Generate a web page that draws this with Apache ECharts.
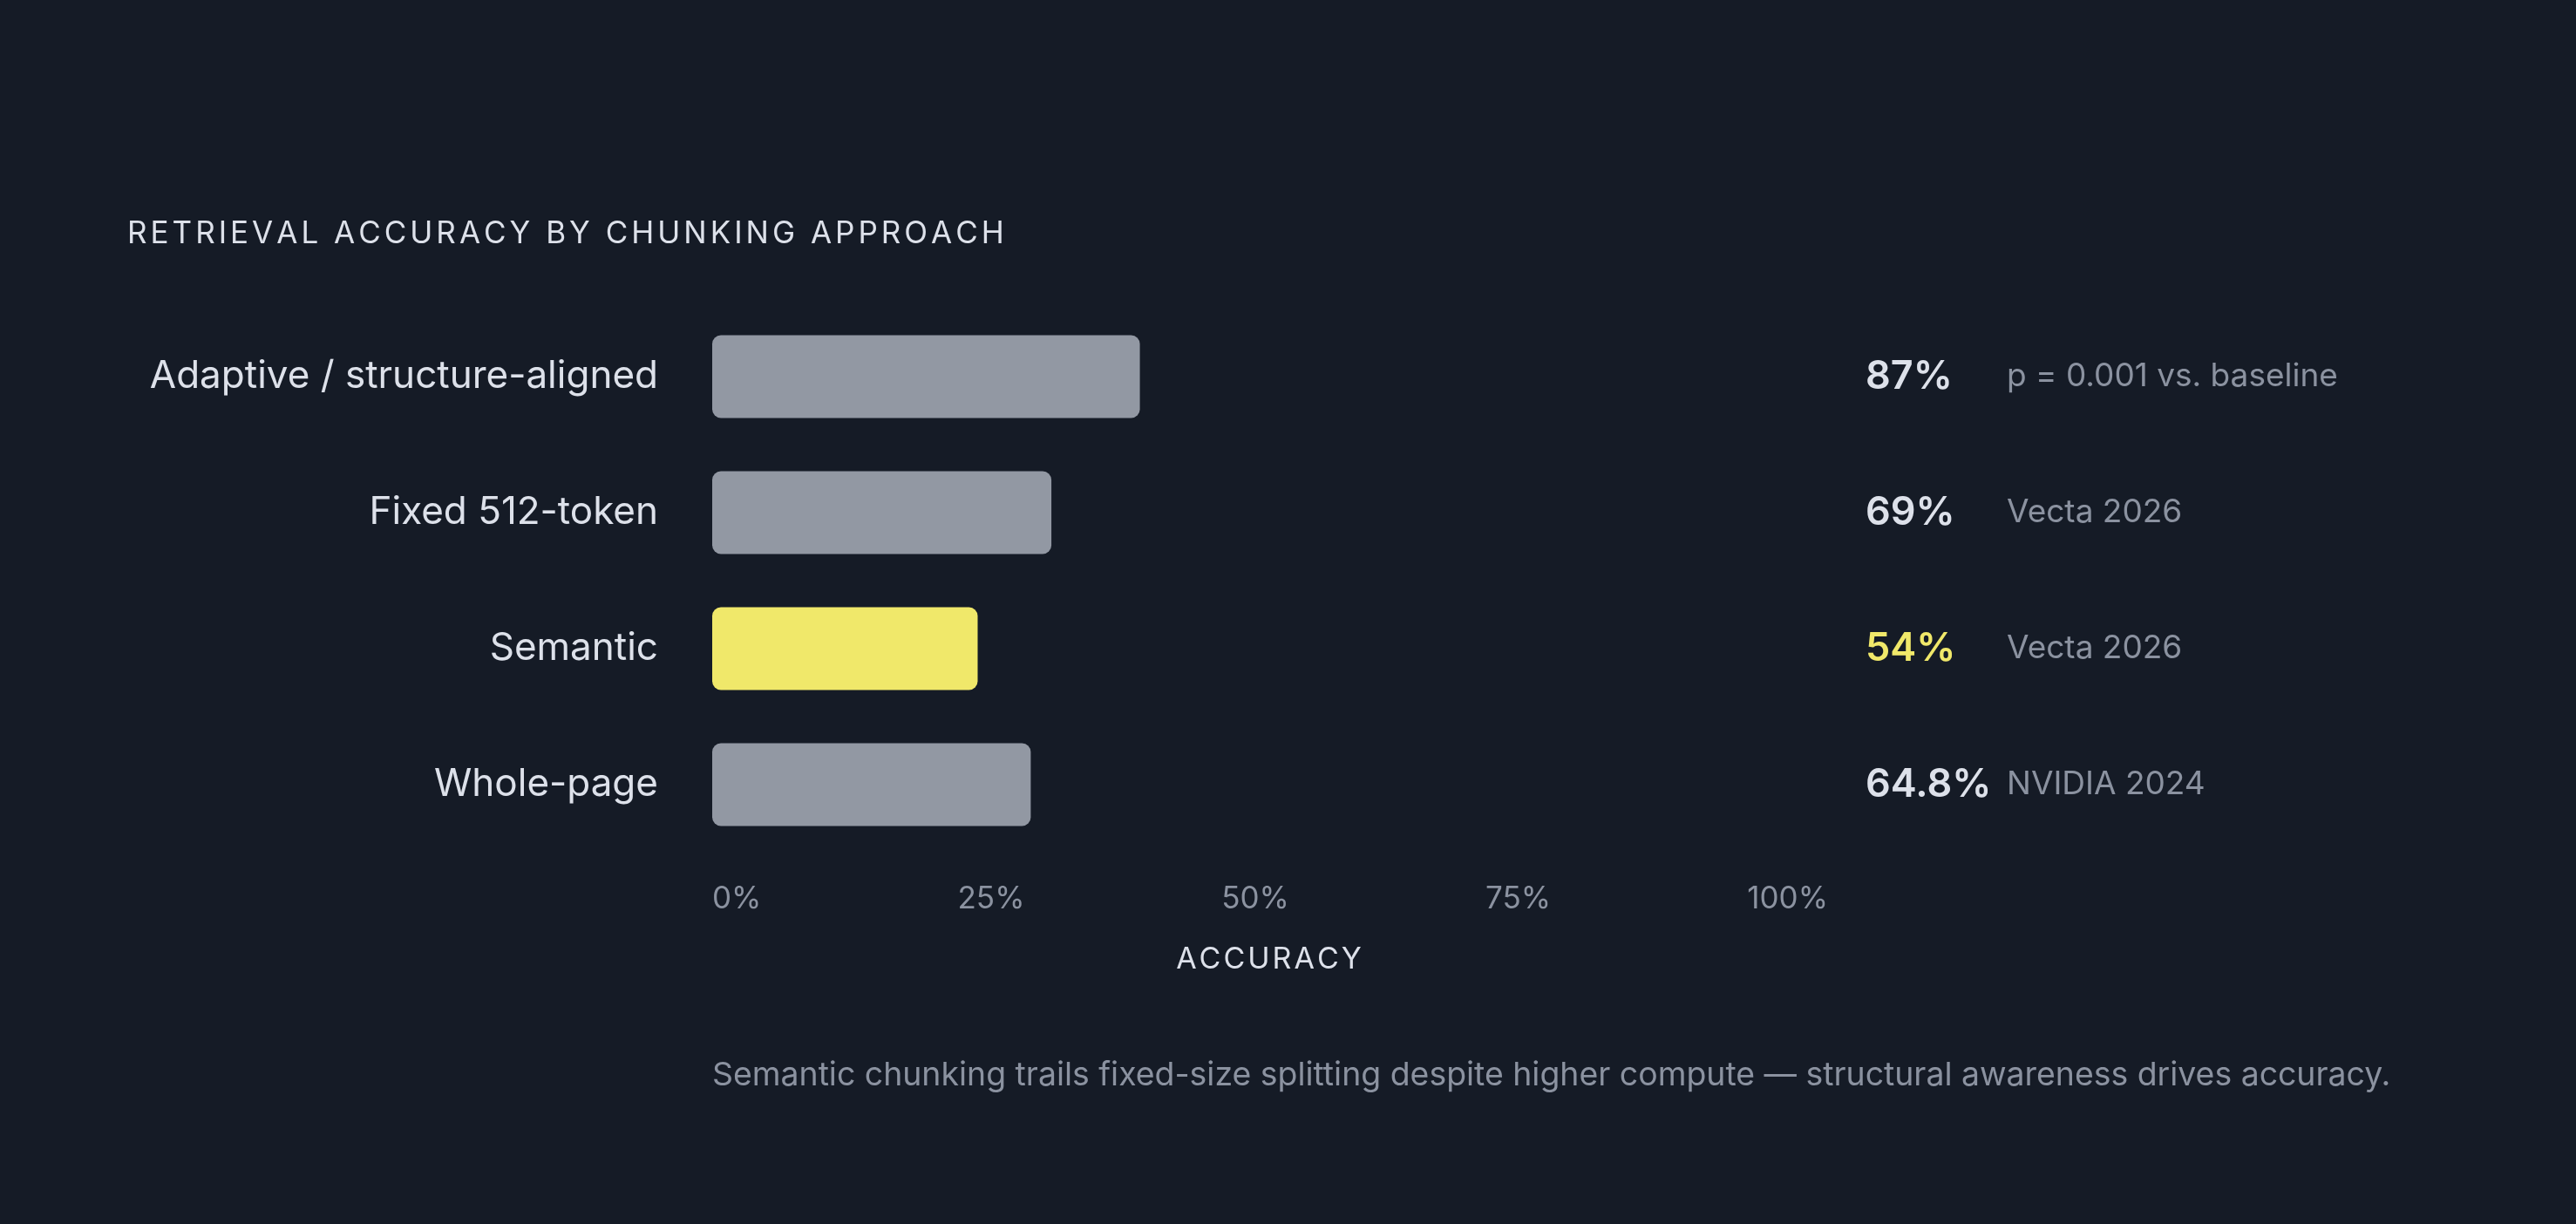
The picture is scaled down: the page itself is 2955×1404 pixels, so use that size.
<!DOCTYPE html>
<html>
<head>
<meta charset="utf-8">
<script src="https://cdn.jsdelivr.net/npm/echarts@6/dist/echarts.min.js"></script>
<style>
  html, body { margin: 0; padding: 0; background: #151b26; }
  #chart { width: 2955px; height: 1404px; }
</style>
</head>
<body>
<div id="chart"></div>
<script>
const titleText = 'RETRIEVAL ACCURACY BY CHUNKING APPROACH';
const axisTitle = 'ACCURACY';
const footnote = 'Semantic chunking trails fixed-size splitting despite higher compute \u2014 structural awareness drives accuracy.';

const categories = ['Adaptive / structure-aligned', 'Fixed 512-token', 'Semantic', 'Whole-page'];
const accuracy = [87, 69, 54, 64.8];
const valueLabels = ['87%', '69%', '54%', '64.8%'];
const sources = ['p = 0.001 vs. baseline', 'Vecta 2026', 'Vecta 2026', 'NVIDIA 2024'];
const highlighted = 'Semantic';
const tickLabels = ['0%', '25%', '50%', '75%', '100%'];
const tickStep = 25;

const FONT = 'Inter, "Noto Sans", sans-serif';
const BG = '#151b26';
const TEXT = '#dde1ea';
const MUTED = '#8b92a0';
const BAR = '#9298a3';
const YELLOW = '#f0e86a';

const GRID_LEFT = 817;
const GRID_RIGHT = 858;
const TICK_SIZE = 35;

// spread letters out: ECharts has no letter-spacing, so every glyph gets its own rich token
function spaced(str, style) {
  return str.split('').map((c) => '{' + style + '|' + c + '}').join('');
}

// tick labels in the reference are laid out edge to edge (space-between),
// so work out how far each centred label in the middle has to move
function tickShifts(width) {
  const ctx = document.createElement('canvas').getContext('2d');
  ctx.font = TICK_SIZE + 'px ' + FONT;
  const w = tickLabels.map((t) => ctx.measureText(t).width);
  const n = w.length;
  const gap = (width - w.reduce((a, b) => a + b, 0)) / (n - 1);
  let x = 0;
  return w.map((wi, i) => {
    const centre = x + wi / 2;
    x += wi + gap;
    // first and last are already pinned by alignMinLabel / alignMaxLabel
    if (i === 0 || i === n - 1) return 0;
    return centre - (i * width) / (n - 1);
  });
}
const shifts = tickShifts(2955 - GRID_LEFT - GRID_RIGHT);

const tickRich = {};
tickLabels.forEach((_, i) => {
  const d = Math.round(shifts[i] * 2);
  tickRich['t' + i] = {
    fontFamily: FONT, fontSize: TICK_SIZE, lineHeight: 36, color: MUTED,
    padding: d < 0 ? [0, -d, 0, 0] : [0, 0, 0, d],
  };
});

const chart = echarts.init(document.getElementById('chart'), null, { renderer: 'canvas' });

chart.setOption({
  backgroundColor: BG,
  animation: false,
  textStyle: { fontFamily: FONT },
  title: [
    {
      text: spaced(titleText, 't'),
      left: 146,
      top: 250,
      padding: 0,
      textStyle: {
        fontWeight: 'normal',
        rich: {
          t: { fontFamily: FONT, fontSize: 35, fontWeight: 'normal', lineHeight: 36, color: TEXT, padding: [0, 4, 0, 0] },
        },
      },
    },
    {
      text: footnote,
      left: GRID_LEFT,
      top: 1216,
      padding: 0,
      textStyle: { fontFamily: FONT, fontSize: 37.4, lineHeight: 36, fontWeight: 'normal', color: MUTED },
    },
  ],
  grid: { left: GRID_LEFT, right: GRID_RIGHT, top: 354, bottom: 426, containLabel: false },
  xAxis: [
    {
      // scale the bars are drawn on
      type: 'value',
      min: 0,
      max: 227,
      show: false,
    },
    {
      type: 'value',
      min: 0,
      max: 100,
      interval: tickStep,
      position: 'bottom',
      name: spaced(axisTitle, 'a'),
      nameLocation: 'middle',
      nameGap: 106,
      nameTextStyle: {
        rich: {
          a: { fontFamily: FONT, fontSize: 34, lineHeight: 34, color: TEXT, padding: [0, 3, 0, 0] },
        },
      },
      axisLine: { show: false },
      axisTick: { show: false },
      splitLine: { show: false },
      axisLabel: {
        formatter: (val) => {
          const i = Math.round(val / tickStep);
          return '{t' + i + '|' + tickLabels[i] + '}';
        },
        rich: tickRich,
        fontFamily: FONT,
        fontSize: TICK_SIZE,
        lineHeight: 36,
        color: MUTED,
        margin: 35,
        alignMinLabel: 'left',
        alignMaxLabel: 'right',
      },
    },
  ],
  yAxis: [
    {
      type: 'category',
      data: categories,
      inverse: true,
      axisLine: { show: false },
      axisTick: { show: false },
      splitLine: { show: false },
      axisLabel: {
        interval: 0,
        margin: 62,
        fontFamily: FONT,
        fontSize: 44,
        color: TEXT,
      },
    },
    {
      type: 'category',
      data: categories,
      inverse: true,
      position: 'right',
      axisLine: { show: false },
      axisTick: { show: false },
      splitLine: { show: false },
      axisLabel: {
        interval: 0,
        margin: 43,
        align: 'left',
        formatter: (val, i) => {
          const key = categories[i] === highlighted ? 'vh' : 'v';
          return '{' + key + '|' + valueLabels[i] + '}{s|' + sources[i] + '}';
        },
        rich: {
          v: { fontFamily: FONT, fontSize: 45, fontWeight: 600, color: TEXT, width: 162 },
          vh: { fontFamily: FONT, fontSize: 45, fontWeight: 600, color: YELLOW, width: 162 },
          s: { fontFamily: FONT, fontSize: 37, color: MUTED },
        },
      },
    },
  ],
  series: [
    {
      type: 'bar',
      xAxisIndex: 0,
      yAxisIndex: 0,
      barWidth: 95,
      data: accuracy.map((v, i) => ({
        value: v,
        itemStyle: { color: categories[i] === highlighted ? YELLOW : BAR },
      })),
      itemStyle: { borderRadius: 10 },
      label: { show: false },
      silent: true,
    },
  ],
});
</script>
</body>
</html>
